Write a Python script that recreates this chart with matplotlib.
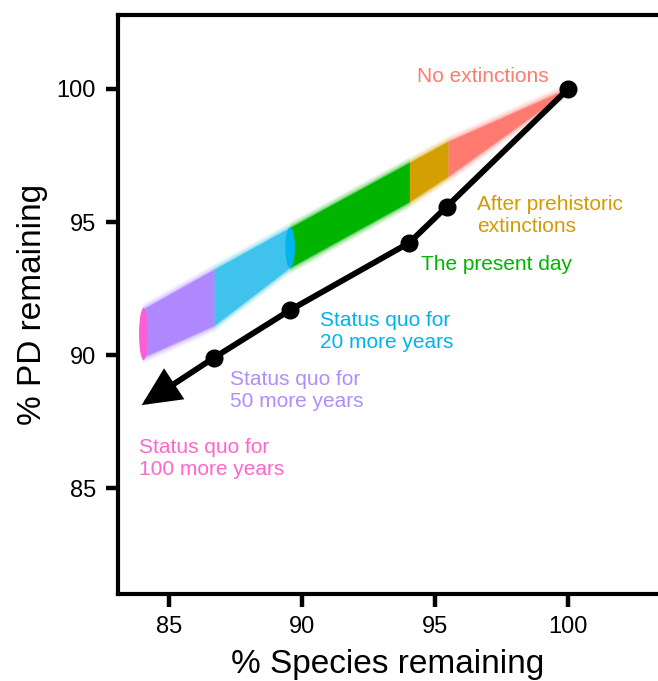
import matplotlib.pyplot as plt
from matplotlib.patches import Ellipse, Polygon

plt.rcParams["font.family"] = ["Liberation Sans", "DejaVu Sans"]

# mean trajectory (black line), % species vs % PD remaining
species_pct = [100.0, 95.44, 94.03, 89.55, 86.69]
pd_pct = [100.0, 95.58, 94.22, 91.69, 89.90]
arrow_tip = (83.97, 88.12)

# envelope of the simulated trajectories, segment boundaries
band_x = [100.0, 95.5, 94.05, 89.55, 86.7, 84.0]
band_top = [100.0, 98.01, 97.22, 94.77, 93.20, 91.69]
band_bottom = [99.92, 96.70, 95.75, 93.27, 91.09, 89.89]

scenarios = [
    "No extinctions",
    "After prehistoric\nextinctions",
    "The present day",
    "Status quo for\n20 more years",
    "Status quo for\n50 more years",
    "Status quo for\n100 more years",
]
colors = ["#FF7A70", "#D49F00", "#00B400", "#3FC3EC", "#AF88FF", "#FF5FD6"]
label_colors = ["#FF7A70", "#D49A00", "#00B400", "#00B3EE", "#B08DFF", "#FF66CC"]
# anchor = baseline of the last line
label_pos = [(94.32, 100.26), (96.58, 94.62), (94.47, 93.20),
             (90.68, 90.26), (87.29, 88.05), (83.87, 85.49)]

# endpoint clusters (x, y, w, h)
clusters = [(89.55, 94.04, 0.36, 1.52, "#00B5EC"), (84.04, 90.79, 0.34, 1.95, "#FF5FD6")]

fig = plt.figure(figsize=(6.58, 6.81), dpi=100)
ax = fig.add_axes([118 / 658, 87 / 681, 540 / 658, 579 / 681])

for i in range(len(band_x) - 1):
    x0, x1 = band_x[i], band_x[i + 1]
    for d, a in [(0.22, 0.12), (0.14, 0.2), (0.06, 0.4), (0.0, 1.0)]:
        verts = [(x0, band_top[i] + d), (x1, band_top[i + 1] + d),
                 (x1, band_bottom[i + 1] - d), (x0, band_bottom[i] - d)]
        ax.add_patch(Polygon(verts, closed=True, facecolor=colors[i], edgecolor="none",
                             alpha=a, zorder=1 + i * 0.1))

for cx, cy, w, h, c in clusters:
    ax.add_patch(Ellipse((cx, cy), w, h, facecolor=c, edgecolor="none", zorder=2))

ax.plot(species_pct, pd_pct, color="black", lw=4.2, marker="o", ms=12,
        solid_joinstyle="round", zorder=5)
ax.annotate("", xy=arrow_tip, xytext=(species_pct[-1], pd_pct[-1]),
            arrowprops=dict(arrowstyle="-|>,head_length=1.05,head_width=0.5",
                            mutation_scale=20, lw=4.2, color="black",
                            shrinkA=0, shrinkB=0, joinstyle="miter"),
            zorder=5)

for txt, (tx, ty), c in zip(scenarios, label_pos, label_colors):
    ax.text(tx, ty, txt, color=c, fontsize=15, ha="left", va="baseline", zorder=6)

ax.set_xlim(83.08, 103.38)
ax.set_ylim(81.02, 102.78)
ax.set_xticks([85, 90, 95, 100])
ax.set_yticks([85, 90, 95, 100])
ax.tick_params(labelsize=17, width=3.2, length=9, pad=7, color="black")
ax.spines["right"].set_visible(False)
for s in ["left", "bottom", "top"]:
    ax.spines[s].set_linewidth(3)

ax.set_xlabel("% Species remaining", fontsize=24, labelpad=8)
ax.set_ylabel("% PD remaining", fontsize=24, labelpad=6)

fig.savefig("out.png", dpi=100)
